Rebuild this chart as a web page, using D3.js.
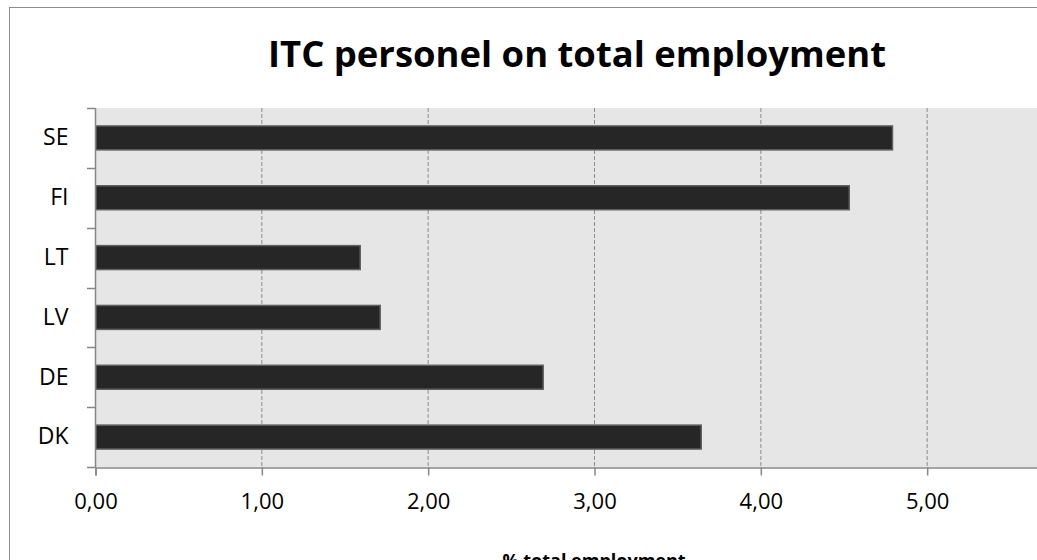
<!DOCTYPE html>
<html>
<head>
<meta charset="utf-8">
<script src="https://cdn.jsdelivr.net/npm/d3@7"></script>
<style>
  body { margin: 0; background: #fff; }
  svg { display: block; }
</style>
</head>
<body>
<svg id="chart"></svg>
<script>
// data
const countries = ['SE', 'FI', 'LT', 'LV', 'DE', 'DK'];
const share = [4.79, 4.53, 1.59, 1.71, 2.69, 3.64];
const xTicks = [0, 1, 2, 3, 4, 5];
const titleText = 'ITC personel on total employment';
const xTitle = '% total employment';

class hBar {
  constructor(_config) {
    this.config = {
      parentElement: _config.parentElement,
      containerWidth: _config.containerWidth || 1037,
      containerHeight: _config.containerHeight || 560,
      margin: { top: 108, left: 95 },
      plotWidth: 998,   // plot runs past the right edge, as in the original
      plotHeight: 359
    };
    this.initVis();
  }
  initVis() {
    let vis = this;
    let c = vis.config;

    vis.svg = d3.select(c.parentElement)
      .attr('width', c.containerWidth)
      .attr('height', c.containerHeight);

    // outer chart frame (cut off right + bottom)
    vis.svg.append('rect')
      .attr('x', 9.5).attr('y', 7.5)
      .attr('width', 1200).attr('height', 700)
      .attr('fill', '#fff')
      .attr('stroke', '#8c8c8c');

    vis.chart = vis.svg.append('g')
      .attr('transform', `translate(${c.margin.left},${c.margin.top})`);

    vis.xScale = d3.scaleLinear()
      .domain([0, 6])
      .range([0, c.plotWidth]);

    vis.yScale = d3.scaleBand()
      .domain(countries)
      .range([0, c.plotHeight])
      .paddingInner(0.6)
      .paddingOuter(0.3);

    vis.chart.append('rect')
      .attr('width', c.plotWidth)
      .attr('height', c.plotHeight)
      .attr('fill', '#e6e6e6');

    // dashed gridlines
    vis.chart.selectAll('.grid')
      .data(xTicks.filter(d => d > 0))
      .join('line')
      .attr('class', 'grid')
      .attr('x1', d => vis.xScale(d) + 0.5)
      .attr('x2', d => vis.xScale(d) + 0.5)
      .attr('y1', 0)
      .attr('y2', c.plotHeight)
      .attr('stroke', '#8c8c8c')
      .attr('stroke-width', 1)
      .attr('stroke-dasharray', '4,2');

    vis.chart.selectAll('.bar')
      .data(countries.map((d, i) => ({ k: d, v: share[i] })))
      .join('rect')
      .attr('class', 'bar')
      .attr('x', 0.75)
      .attr('y', d => vis.yScale(d.k))
      .attr('width', d => vis.xScale(d.v))
      .attr('height', vis.yScale.bandwidth())
      .attr('fill', '#262626')
      .attr('stroke', '#5f5f5f')
      .attr('stroke-width', 1.5);

    // x axis
    let xAxis = d3.axisBottom(vis.xScale)
      .tickValues(xTicks)
      .tickSize(8)
      .tickPadding(18)
      .tickFormat(d => d3.format('.2f')(d).replace('.', ','));

    let xg = vis.chart.append('g')
      .attr('transform', `translate(0.5,${c.plotHeight + 0.5})`)
      .call(xAxis);
    xg.select('.domain').attr('stroke', '#868686').attr('stroke-width', 1.5);
    xg.selectAll('.tick line').attr('stroke', '#868686').attr('stroke-width', 1.5);
    xg.selectAll('.tick text')
      .attr('font-family', 'Open Sans, sans-serif')
      .attr('font-size', 22)
      .attr('fill', '#000');

    // y axis: labels at band centres, ticks at band edges
    let yAxis = d3.axisLeft(vis.yScale).tickSize(0).tickPadding(27);
    let yg = vis.chart.append('g')
      .attr('transform', 'translate(0.5,0)')
      .call(yAxis);
    yg.select('.domain').remove();
    yg.selectAll('.tick text')
      .attr('font-family', 'Open Sans, sans-serif')
      .attr('font-size', 23)
      .attr('fill', '#000');

    let edges = d3.range(countries.length + 1).map(i => i * c.plotHeight / countries.length);
    vis.chart.selectAll('.ytick')
      .data(edges)
      .join('line')
      .attr('class', 'ytick')
      .attr('x1', -8).attr('x2', 0.5)
      .attr('y1', d => Math.round(d) + 0.5)
      .attr('y2', d => Math.round(d) + 0.5)
      .attr('stroke', '#868686')
      .attr('stroke-width', 1.5);
    vis.chart.append('line')
      .attr('x1', 0.5).attr('x2', 0.5)
      .attr('y1', 0).attr('y2', c.plotHeight)
      .attr('stroke', '#868686')
      .attr('stroke-width', 1.5);

    // titles
    vis.svg.append('text')
      .attr('x', 577)
      .attr('y', 67)
      .attr('text-anchor', 'middle')
      .attr('font-family', 'Open Sans, sans-serif')
      .attr('font-weight', 'bold')
      .attr('font-size', 36)
      .attr('textLength', 618)
      .attr('lengthAdjust', 'spacingAndGlyphs')
      .text(titleText);

    vis.svg.append('text')
      .attr('x', c.margin.left + c.plotWidth / 2)
      .attr('y', 567)
      .attr('text-anchor', 'middle')
      .attr('font-family', 'Open Sans, sans-serif')
      .attr('font-weight', 'bold')
      .attr('font-size', 18)
      .text(xTitle);
  }
}

new hBar({ parentElement: '#chart' });
</script>
</body>
</html>
